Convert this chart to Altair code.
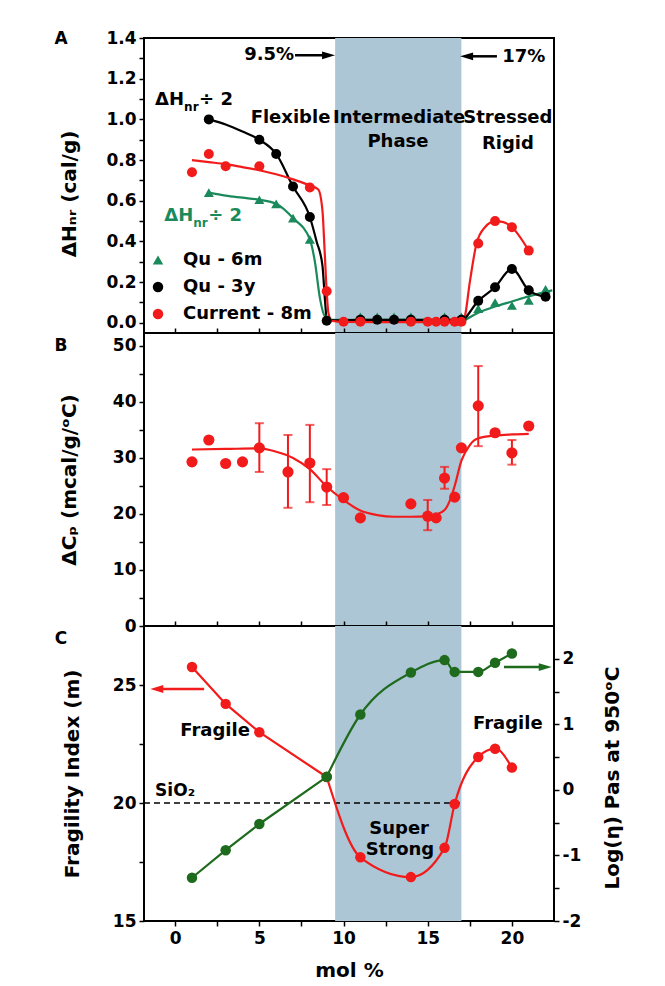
import altair as alt
import pandas as pd

FONT = "DejaVu Sans"
RED = "#f21b1b"
GREEN_A = "#1a8a5c"
GREEN_C = "#1e6b1e"
BAND = "#adc6d6"

W, HA, HB, HC = 410, 295, 293, 295
X_DOMAIN = [-1.85, 22.5]
IP_LO, IP_HI = 9.5, 17.0
X_TICKS = [0, 2.5, 5, 7.5, 10, 12.5, 15, 17.5, 20]

# ---------------- Panel A data ----------------
a6m_x = [2, 5, 6, 7, 8, 9, 11, 12, 13, 14, 16, 17, 18, 19, 20, 21, 22]
a6m_y = [0.64, 0.605, 0.585, 0.515, 0.41, 0.02, 0.03, 0.03, 0.03, 0.03, 0.03, 0.03, 0.07, 0.10, 0.085, 0.11, 0.165]
a3y_x = [2, 5, 6, 7, 8, 9, 11, 12, 13, 14, 16, 17, 18, 19, 20, 21, 22]
a3y_y = [1.0, 0.9, 0.83, 0.67, 0.52, 0.01, 0.015, 0.015, 0.015, 0.015, 0.015, 0.015, 0.108, 0.175, 0.265, 0.16, 0.128]
a8m_x = [1, 2, 3, 5, 8, 9, 10, 11, 14, 15, 15.5, 16, 16.6, 17, 18, 19, 20, 21]
a8m_y = [0.74, 0.83, 0.77, 0.77, 0.665, 0.155, 0.005, 0.005, 0.005, 0.005, 0.005, 0.005, 0.005, 0.005, 0.39, 0.5, 0.47, 0.355]

# curves
a6m_fit_x = [2, 3, 4, 5, 6, 7, 8, 8.3, 8.6, 8.9, 9.3, 12, 14, 17, 18, 19, 20, 21, 22, 22.4]
a6m_fit_y = [0.64, 0.625, 0.615, 0.605, 0.585, 0.515, 0.41, 0.30, 0.12, 0.03, 0.015, 0.015, 0.015, 0.012, 0.05, 0.08, 0.105, 0.13, 0.152, 0.16]
a3y_fit_x = [2, 3, 4, 5, 6, 7, 8, 8.4, 8.75, 8.9, 9.0, 9.5, 11, 14, 17, 18, 19, 20, 21, 22]
a3y_fit_y = [1.0, 0.975, 0.94, 0.9, 0.83, 0.67, 0.52, 0.40, 0.28, 0.11, 0.02, 0.012, 0.015, 0.015, 0.015, 0.108, 0.175, 0.265, 0.16, 0.128]
a8m_fit_x = [1, 2, 3, 4, 5, 6, 7, 8, 8.5, 8.75, 8.88, 9.0, 9.1, 9.3, 10, 12, 14, 16, 17, 17.2, 17.5, 17.9, 18.4, 19, 19.5, 20, 21]
a8m_fit_y = [0.80, 0.79, 0.78, 0.765, 0.75, 0.73, 0.705, 0.675, 0.655, 0.55, 0.35, 0.155, 0.05, 0.01, 0.004, 0.003, 0.003, 0.003, 0.005, 0.03, 0.2, 0.39, 0.47, 0.5, 0.495, 0.47, 0.355]

# ---------------- Panel B data ----------------
b_x = [1, 2, 3, 4, 5, 6.7, 8, 9, 10, 11, 14, 15, 15.5, 16, 16.6, 17, 18, 19, 20, 21]
b_y = [29.3, 33.2, 29.0, 29.3, 31.8, 27.5, 29.1, 24.8, 22.9, 19.3, 21.8, 19.6, 19.3, 26.4, 23.0, 31.8, 39.3, 34.5, 30.9, 35.7]
err_x = [5, 6.7, 8, 9, 15, 16, 18, 20]
err_lo = [27.5, 21.1, 22.1, 21.6, 17.1, 24.5, 32.1, 28.8]
err_hi = [36.2, 34.1, 35.9, 28.0, 22.5, 28.4, 46.4, 33.2]
b_fit_x = [1, 3, 5, 6, 7, 8, 9, 10, 11, 12, 13, 14, 15, 15.5, 16, 16.3, 16.6, 17, 17.5, 18, 19, 20, 21]
b_fit_y = [31.5, 31.6, 31.7, 31.1, 30.0, 28.0, 24.9, 22.5, 20.6, 19.8, 19.5, 19.5, 19.6, 19.9, 20.7, 22.3, 25.0, 29.5, 32.3, 33.5, 34.0, 34.2, 34.3]

# ---------------- Panel C data ----------------
c_x = [1, 3, 5, 9, 11, 14, 16, 16.6, 18, 19, 20]
c_frag = [25.76, 24.2, 23.0, 21.1, 17.7, 16.86, 18.1, 19.96, 21.95, 22.3, 21.5]
c_logeta = [-1.34, -0.92, -0.52, 0.2, 1.15, 1.79, 1.98, 1.80, 1.80, 1.94, 2.08]
c_straight_until = 9   # segments up to this composition are drawn straight
sio2_m = 20
sio2_x = [-1.85, 17.0]

xs = alt.Scale(domain=X_DOMAIN, nice=False, zero=False)
ya = alt.Scale(domain=[-0.05, 1.4], nice=False, zero=False)
yb = alt.Scale(domain=[0, 52.3], nice=False, zero=False)
ycl = alt.Scale(domain=[15, 27.5], nice=False, zero=False)
ycr = alt.Scale(domain=[-2, 2.5], nice=False, zero=False)


def xenc(field="x", axis=None):
    return alt.X(f"{field}:Q", scale=xs, axis=axis)


def yenc(scale, field="y", axis=None):
    return alt.Y(f"{field}:Q", scale=scale, axis=axis)


def yaxis(title, values, label_expr, h, tx=-75, ty_shift=0, orient="left"):
    return alt.Axis(
        orient=orient, title=title, values=values, labelExpr=label_expr,
        tickSize=5, labelPadding=3, domain=False, grid=False,
        titleX=tx, titleY=h / 2 + ty_shift, titleAngle=270,
        titleAlign="center", titleBaseline="middle",
    )


top_axis = alt.Axis(orient="top", values=X_TICKS, labels=False, tickSize=5,
                    domain=False, grid=False, title=None)


def band(axis=None):
    df = pd.DataFrame({"x": [IP_LO], "x1": [IP_HI]})
    return alt.Chart(df).mark_rect(color=BAND).encode(x=xenc("x", axis), x2="x1:Q")


def line(xv, yv, scale, color, axis=None, width=2.2, interp="monotone"):
    df = pd.DataFrame({"x": xv, "y": yv})
    return alt.Chart(df).mark_line(color=color, strokeWidth=width, interpolate=interp).encode(
        x=xenc(), y=yenc(scale, axis=axis))


def points(xv, yv, scale, color, size=100, shape="circle"):
    df = pd.DataFrame({"x": xv, "y": yv})
    return alt.Chart(df).mark_point(filled=True, opacity=1, color=color, size=size, shape=shape).encode(
        x=xenc(), y=yenc(scale))


def text(xv, yv, labels, scale, color="black", size=18, align="center", dx=0, dy=0):
    df = pd.DataFrame({"x": xv, "y": yv, "t": labels})
    return alt.Chart(df).mark_text(font=FONT, fontWeight="bold", fontSize=size, color=color,
                                   align=align, baseline="middle", dx=dx, dy=dy).encode(
        x=xenc(), y=yenc(scale), text="t:N")


def arrow(tail, tip, yv, scale, color):
    head = 0.39
    d = 1 if tip > tail else -1
    hc = tip - d * head
    path = "M1,0 L-1,-0.6 L-1,0.6 Z" if d > 0 else "M-1,0 L1,-0.6 L1,0.6 Z"
    r = alt.Chart(pd.DataFrame({"x": [tail], "x1": [hc], "y": [yv]})).mark_rule(
        color=color, strokeWidth=2.5).encode(x=xenc(), x2="x1:Q", y=yenc(scale))
    h = alt.Chart(pd.DataFrame({"x": [hc], "y": [yv]})).mark_point(
        shape=path, filled=True, opacity=1, size=169, color=color).encode(x=xenc(), y=yenc(scale))
    return [r, h]


def letter(s, ypix):
    return alt.Chart(pd.DataFrame({"t": [s]})).mark_text(
        font=FONT, fontWeight="bold", fontSize=17, align="center", baseline="middle").encode(
        x=alt.value(-83), y=alt.value(ypix), text="t:N")


def subscript_label(x0, y0, scale, color):
    return [
        text([x0], [y0], ["ΔH"], scale, color=color, size=18, align="left"),
        text([x0], [y0], ["nr"], scale, color=color, size=12, align="left", dx=29, dy=7),
        text([x0], [y0], ["÷ 2"], scale, color=color, size=18, align="left", dx=44),
    ]


def split_line(xv, yv, scale, color, axis=None):
    """straight segments up to c_straight_until, smooth after"""
    lo = [(a, b) for a, b in zip(xv, yv) if a <= c_straight_until]
    hi = [(a, b) for a, b in zip(xv, yv) if a >= c_straight_until]
    return [
        line([p[0] for p in lo], [p[1] for p in lo], scale, color, axis=axis, interp="linear"),
        line([p[0] for p in hi], [p[1] for p in hi], scale, color),
    ]


# ---------------- Panel A ----------------
series_names = ["Qu - 6m", "Qu - 3y", "Current - 8m"]
pts_a = pd.DataFrame({
    "x": a6m_x + a3y_x + a8m_x,
    "y": a6m_y + a3y_y + a8m_y,
    "s": [series_names[0]] * len(a6m_x) + [series_names[1]] * len(a3y_x) + [series_names[2]] * len(a8m_x),
})
leg = alt.Legend(orient="none", legendX=5, legendY=213, title=None, labelFont=FONT,
                 labelFontWeight="bold", labelFontSize=18, labelColor="black",
                 symbolSize=110, rowPadding=9, labelOffset=16, symbolStrokeWidth=0)
pts_layer = alt.Chart(pts_a).mark_point(filled=True, opacity=1, size=100).encode(
    x=xenc(), y=yenc(ya),
    color=alt.Color("s:N", scale=alt.Scale(domain=series_names, range=[GREEN_A, "black", RED]), legend=leg),
    shape=alt.Shape("s:N", scale=alt.Scale(domain=series_names, range=["triangle-up", "circle", "circle"]), legend=leg),
)

ya_axis = yaxis("ΔHₙᵣ (cal/g)", [round(i * 0.1, 1) for i in range(15)],
                "round(datum.value*10) % 2 == 0 ? format(datum.value, '.1f') : ''", HA, ty_shift=8)

panel_a = alt.layer(
    band(),
    line(a6m_fit_x, a6m_fit_y, ya, GREEN_A, axis=ya_axis),
    line(a3y_fit_x, a3y_fit_y, ya, "black"),
    line(a8m_fit_x, a8m_fit_y, ya, RED),
    pts_layer,
    text([6.85, 13.3, 13.23, 19.76, 19.76], [1.005, 1.005, 0.89, 1.005, 0.877],
         ["Flexible", "Intermediate", "Phase", "Stressed", "Rigid"], ya),
    text([5.58, 20.7], [1.315, 1.305], ["9.5%", "17%"], ya),
    *arrow(7.12, 9.5, 1.315, ya, "black"),
    *arrow(19.11, 16.92, 1.31, ya, "black"),
    *subscript_label(-1.19, 1.094, ya, "black"),
    *subscript_label(-0.65, 0.527, ya, GREEN_A),
    letter("A", 1),
).resolve_axis(y="independent").properties(width=W, height=HA)

# ---------------- Panel B ----------------
err_df = pd.DataFrame({"x": err_x, "y": err_lo, "y2": err_hi})
caps_df = pd.DataFrame({"x": err_x + err_x, "y": err_lo + err_hi})
yb_axis = yaxis("ΔCₚ (mcal/g/ᵒC)", list(range(0, 51, 5)),
                "datum.value % 10 == 0 ? datum.label : ''", HB)
panel_b = alt.layer(
    band(axis=top_axis),
    line(b_fit_x, b_fit_y, yb, RED, axis=yb_axis),
    alt.Chart(err_df).mark_rule(color=RED, strokeWidth=2).encode(x=xenc(), y=yenc(yb), y2="y2:Q"),
    alt.Chart(caps_df).mark_tick(color=RED, orient="horizontal", size=9, thickness=2).encode(x=xenc(), y=yenc(yb)),
    points(b_x, b_y, yb, RED, size=125),
    letter("B", 13),
).resolve_axis(y="independent", x="independent").properties(width=W, height=HB)

# ---------------- Panel C ----------------
bottom_axis = alt.Axis(orient="bottom", values=X_TICKS, labelExpr="datum.value % 5 == 0 ? datum.label : ''",
                       tickSize=5, labelPadding=4, domain=False, grid=False, title="mol %",
                       titlePadding=14)
ycl_axis = yaxis("Fragility Index (m)", [15, 17.5, 20, 22.5, 25],
                 "datum.value % 5 == 0 ? datum.label : ''", HC, tx=-72)
ycr_axis = yaxis("Log(η) Pas at 950ᵒC", [-2, -1.5, -1, -0.5, 0, 0.5, 1, 1.5, 2],
                 "datum.value % 1 == 0 ? '' + datum.value : ''", HC, tx=58, ty_shift=4, orient="right")

sio2_df = pd.DataFrame({"x": [sio2_x[0]], "x1": [sio2_x[1]], "y": [sio2_m]})
panel_c = alt.layer(
    band(axis=top_axis),
    alt.Chart(sio2_df).mark_rule(color="black", strokeWidth=1.5, strokeDash=[6, 4]).encode(
        x=xenc(axis=bottom_axis), x2="x1:Q", y=yenc(ycl)),
    *split_line(c_x, c_frag, ycl, RED, axis=ycl_axis),
    points(c_x, c_frag, ycl, RED, size=110),
    *split_line(c_x, c_logeta, ycr, GREEN_C, axis=ycr_axis),
    points(c_x, c_logeta, ycr, GREEN_C, size=110),
    text([2.37, 19.76, 13.3, 13.35], [23.05, 23.35, 18.9, 18.0],
         ["Fragile", "Fragile", "Super", "Strong"], ycl),
    text([-1.19], [20.5], ["SiO₂"], ycl, size=17, align="left"),
    *arrow(1.72, -1.48, 24.83, ycl, RED),
    *arrow(19.53, 22.37, 25.76, ycl, GREEN_C),
    letter("C", 13),
).resolve_scale(y="independent").resolve_axis(x="independent").properties(width=W, height=HC)

chart = alt.vconcat(panel_a, panel_b, panel_c, spacing=0, bounds="flush").properties(
    padding={"left": 45, "top": 20, "right": 10, "bottom": 5},
    background="white",
).configure_view(stroke="black", strokeWidth=2).configure_axis(
    labelFont=FONT, labelFontWeight="bold", labelFontSize=17, labelColor="black",
    tickColor="black", tickWidth=1.5,
    titleFont=FONT, titleFontWeight="bold", titleFontSize=20, titleColor="black",
)

chart.save("out.html", embed_options={"renderer": "svg", "actions": False})
